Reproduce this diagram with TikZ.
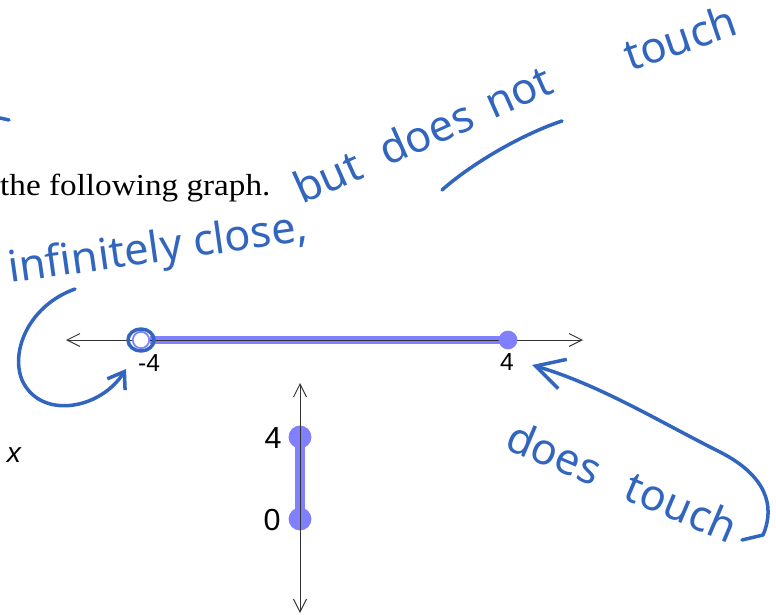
\documentclass[tikz,border=0pt]{standalone}
\usepackage{fontspec}
\setmainfont{Liberation Serif}
\newfontfamily\docfont[FakeStretch=1.09]{Liberation Serif}
\newfontfamily\labelfont{Liberation Sans}
\newfontfamily\handfont{Noto Sans}
\usetikzlibrary{arrows.meta}
\definecolor{ptblue}{RGB}{128,128,255}
\definecolor{ink}{RGB}{50,102,190}

\begin{document}
\begin{tikzpicture}[x=0.03cm,y=-0.03cm,>={Straight Barb[length=11pt,width=11pt]},
    axis/.style={draw=black!80,line width=0.8pt,<->},
    seg/.style={draw=ptblue,line width=6pt},
    dotc/.style={circle,fill=ptblue,inner sep=0pt,minimum size=#1},
    hand/.style={draw=ink,line width=3pt,line cap=round,line join=round},
    handtxt/.style={text=ink,font=\handfont\fontsize{37}{37}\selectfont,inner sep=0pt,anchor=base west},
    lbl/.style={font=\labelfont\fontsize{21}{21}\selectfont,inner sep=0pt}]
  \useasboundingbox (0,0) rectangle (776,615);
  \node[anchor=base west,inner sep=0pt,font=\docfont\fontsize{26}{26}\selectfont] (intro) at (0,195) {the following graph.};
  \node[font=\labelfont\itshape\fontsize{24}{24}\selectfont,inner sep=0pt] (xvar) at (14,455) {x};

  \coordinate (hl) at (66,340);
  \coordinate (hr) at (583,340);
  \coordinate (m4) at (141,340);
  \coordinate (p4) at (508,340);
  \draw[seg] (150,340) -- (p4);
  \draw[axis] (hl) -- (hr);
  \node[circle,draw=ptblue,fill=white,line width=1.5pt,inner sep=0pt,minimum size=14pt] (hole) at (m4) {};
  \node[dotc=16pt] (four) at (p4) {};
  \node[lbl] (lm4) at (149,363) {-4};
  \node[lbl] (l4) at (507,362) {4};

  \coordinate (vt) at (300,383);
  \coordinate (vb) at (300,613);
  \coordinate (y4) at (300,437);
  \coordinate (y0) at (300,519);
  \draw[seg,line width=8pt] (y4) -- (y0);
  \node[dotc=19.5pt] (v4) at (y4) {};
  \node[dotc=19.5pt] (v0) at (y0) {};
  \draw[axis] (vt) -- (vb);
  \node[lbl,font=\labelfont\fontsize{26}{26}\selectfont] (lv4) at (273,438) {4};
  \node[lbl,font=\labelfont\fontsize{26}{26}\selectfont] (lv0) at (272,520) {0};

  \node[handtxt,rotate=8] (closeNote) at (10,283) {infinitely close,};
  \node[handtxt,rotate=24] (notNote) at (302,205) {but\hspace{0.3em} does\hspace{0.15em} not};
  \node[handtxt,rotate=19] (touchNote) at (630,72) {touch};
  \node[handtxt,rotate=-23] (touchedNote) at (503,448) {does\hspace{0.45em} touch};

  \draw[hand] (0,118) -- (9,120);
  \coordinate (ulA) at (442,190);
  \coordinate (ulB) at (562,121);
  \draw[hand] (ulA) .. controls (470,165) and (520,135) .. (ulB);
  \draw[hand] (hole) ellipse [x radius=13,y radius=11];

  \coordinate (infStart) at (75,289);
  \coordinate (infTip) at (126,369);
  \draw[hand,-{Straight Barb[length=13pt,width=18pt]}] (infStart) .. controls (30,305) and (10,350) .. (22,380) .. controls (40,420) and (100,410) .. (infTip);
  \coordinate (brkStart) at (742,540);
  \coordinate (fourTip) at (532,365);
  \draw[hand,-{Straight Barb[length=24pt,width=26pt]}] (brkStart) -- (763,535) .. controls (776,505) and (765,475) .. (720,452) .. controls (660,422) and (600,385) .. (fourTip);
\end{tikzpicture}
\end{document}
